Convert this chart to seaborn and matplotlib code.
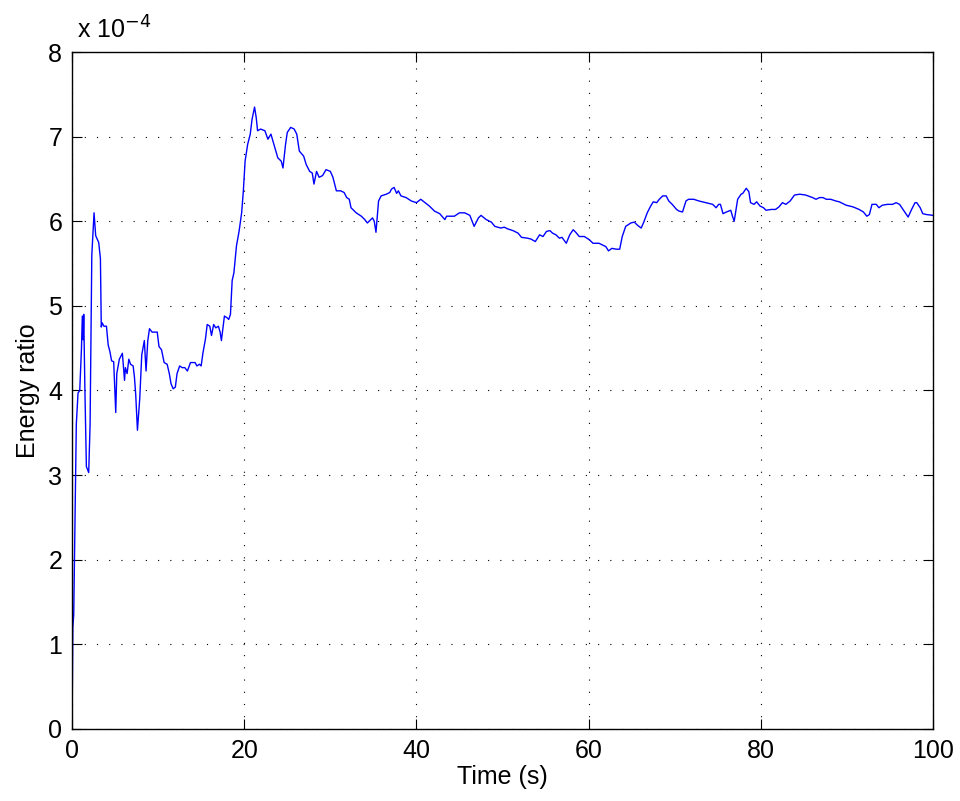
import matplotlib
matplotlib.use("Agg")
import matplotlib.pyplot as plt
import seaborn as sns
import numpy as np
import pandas as pd

# values, energy ratio in units of 1e-4
time_s = [
    0.0, 0.1, 0.2, 0.5, 0.7, 0.9, 1.1, 1.2, 1.3, 1.36, 1.5, 1.67, 1.94, 2.1, 2.3, 2.56,
    2.75, 3.1, 3.3, 3.4, 3.5, 3.7, 4.0, 4.2, 4.4, 4.6, 4.84, 5.08, 5.2, 5.5, 5.85, 6.1,
    6.2, 6.4, 6.6, 6.8, 7.1, 7.25, 7.4, 7.6, 7.87, 8.1, 8.4, 8.6, 8.8, 9.0, 9.3, 9.9,
    10.1, 10.4, 10.7, 11.05, 11.3, 11.5, 11.75, 12.0, 12.2, 12.5, 12.8, 13.1, 13.4, 13.76,
    14.3, 14.5, 14.8, 15.0, 15.2, 15.5, 15.7, 16.0, 16.2, 16.45, 16.7, 17.0, 17.2, 17.35,
    17.7, 18.0, 18.2, 18.4, 18.6, 18.8, 19.1, 19.4, 19.7, 19.9, 20.1, 20.4, 20.7, 20.9,
    21.2, 21.4, 21.55, 21.9, 22.4, 22.75, 23.1, 23.5, 23.9, 24.3, 24.5, 24.8, 25.0, 25.4,
    25.8, 26.1, 26.4, 26.9, 27.2, 27.6, 27.9, 28.1, 28.4, 28.7, 29.1, 29.5, 30.0, 30.3,
    30.7, 31.2, 31.6, 31.9, 32.2, 32.4, 33.0, 33.6, 34.0, 34.3, 34.9, 35.1, 35.3, 35.6,
    35.9, 36.5, 36.9, 37.1, 37.4, 37.7, 37.9, 38.2, 38.8, 39.4, 40.0, 40.5, 41.0, 41.5,
    42.1, 42.7, 43.3, 43.5, 44.1, 44.4, 45.0, 45.6, 46.2, 46.7, 47.2, 47.5, 48.1, 48.7,
    49.1, 49.8, 50.2, 50.6, 51.2, 51.8, 52.2, 52.9, 53.3, 53.8, 54.3, 54.7, 55.1, 55.5,
    55.8, 56.2, 56.6, 56.9, 57.4, 57.8, 58.2, 58.5, 58.9, 59.5, 60.1, 60.5, 61.2, 62.0,
    62.3, 62.7, 63.2, 63.6, 63.9, 64.3, 64.9, 65.3, 65.7, 66.1, 66.4, 66.8, 67.2, 67.5,
    67.9, 68.2, 68.6, 69.0, 69.3, 69.7, 70.2, 70.5, 70.9, 71.3, 71.6, 72.2, 72.8, 73.6,
    74.4, 74.8, 75.1, 75.3, 75.6, 76.0, 76.5, 76.7, 76.9, 77.3, 77.7, 77.9, 78.3, 78.6,
    78.8, 79.2, 79.5, 79.9, 80.3, 80.6, 81.2, 81.7, 82.1, 82.5, 82.9, 83.4, 83.9, 84.5,
    85.2, 86.0, 86.4, 86.8, 87.2, 87.6, 88.1, 88.7, 89.1, 89.9, 90.7, 91.4, 91.9, 92.3,
    92.6, 92.9, 93.4, 93.7, 94.1, 94.7, 95.3, 95.7, 96.1, 96.5, 96.9, 97.1, 97.5, 97.9,
    98.1, 98.5, 98.8, 99.2, 100.0,
]
energy_ratio = [
    0.0, 1.2, 1.35, 3.6, 3.97, 4.0, 4.5, 4.88, 4.6, 4.9, 4.0, 3.1, 3.03, 3.6, 5.6, 6.1,
    5.83, 5.75, 5.56, 4.75, 4.8, 4.76, 4.76, 4.54, 4.46, 4.35, 4.34, 3.74, 4.2, 4.37, 4.44, 4.12,
    4.27, 4.2, 4.37, 4.31, 4.29, 4.16, 3.95, 3.53, 3.91, 4.42, 4.59, 4.23, 4.59, 4.73, 4.69, 4.69,
    4.52, 4.48, 4.33, 4.31, 4.2, 4.08, 4.02, 4.04, 4.2, 4.29, 4.27, 4.27, 4.23, 4.33,
    4.33, 4.29, 4.31, 4.29, 4.44, 4.61, 4.78, 4.76, 4.65, 4.78, 4.74, 4.76, 4.69, 4.59,
    4.88, 4.86, 4.84, 4.9, 5.3, 5.39, 5.71, 5.88, 6.1, 6.36, 6.71, 6.91, 7.03, 7.2,
    7.35, 7.22, 7.07, 7.09, 7.07, 6.97, 7.03, 6.89, 6.75, 6.71, 6.63, 6.91, 7.05, 7.11,
    7.09, 7.03, 6.83, 6.77, 6.67, 6.59, 6.57, 6.44, 6.59, 6.52, 6.54, 6.61, 6.59, 6.52,
    6.36, 6.36, 6.34, 6.28, 6.26, 6.16, 6.1, 6.06, 6.02, 5.98, 6.04, 6.0, 5.87, 6.24,
    6.3, 6.32, 6.34, 6.38, 6.4, 6.33, 6.36, 6.3, 6.28, 6.24, 6.22, 6.26, 6.22, 6.18,
    6.12, 6.09, 6.02, 6.06, 6.06, 6.06, 6.1, 6.1, 6.07, 5.94, 6.04, 6.07, 6.02, 5.99,
    5.94, 5.92, 5.93, 5.91, 5.89, 5.86, 5.81, 5.8, 5.79, 5.76, 5.84, 5.82, 5.88, 5.89,
    5.86, 5.84, 5.8, 5.81, 5.74, 5.84, 5.9, 5.87, 5.82, 5.82, 5.78, 5.74, 5.74, 5.7,
    5.65, 5.68, 5.67, 5.67, 5.82, 5.94, 5.98, 5.99, 5.95, 5.92, 5.99, 6.1, 6.18, 6.23,
    6.22, 6.26, 6.3, 6.3, 6.24, 6.2, 6.14, 6.12, 6.11, 6.24, 6.26, 6.26, 6.24, 6.22,
    6.2, 6.16, 6.2, 6.2, 6.09, 6.11, 6.13, 6.06, 6.0, 6.26, 6.32, 6.33, 6.39, 6.35,
    6.22, 6.2, 6.23, 6.18, 6.16, 6.13, 6.14, 6.14, 6.17, 6.22, 6.2, 6.24, 6.31, 6.32,
    6.31, 6.28, 6.26, 6.28, 6.28, 6.26, 6.26, 6.24, 6.23, 6.19, 6.17, 6.14, 6.11, 6.06,
    6.08, 6.2, 6.2, 6.16, 6.19, 6.2, 6.2, 6.22, 6.2, 6.14, 6.08, 6.05, 6.14, 6.22,
    6.22, 6.16, 6.09, 6.08, 6.07,
]
x_ticks = [0, 20, 40, 60, 80, 100]
y_ticks = [0, 1, 2, 3, 4, 5, 6, 7, 8]

sns.set_theme(style="ticks")
plt.rcParams["font.family"] = ["Liberation Sans", "DejaVu Sans"]

df = pd.DataFrame({"time": time_s, "ratio": energy_ratio})

fig = plt.figure(figsize=(9.6, 8.01), dpi=100)
ax = fig.add_axes([0.075, 0.090, 0.897, 0.845])

sns.lineplot(data=df, x="time", y="ratio", ax=ax, color="#0000ff", linewidth=1.0)

ax.set_xlim(0, 100)
ax.set_ylim(0, 8)
ax.set_xticks(x_ticks)
ax.set_yticks(y_ticks)
ax.grid(True, color="black", linestyle=(0, (1, 10)), linewidth=0.8)
ax.tick_params(direction="in", length=7, width=0.8, labelsize=18,
               top=True, right=True, colors="black", labelcolor="black")
ax.tick_params(axis="x", pad=7)
ax.tick_params(axis="y", pad=7)
for s in ax.spines.values():
    s.set_visible(True)
    s.set_linewidth(1.0)
    s.set_color("black")

ax.set_xlabel("Time (s)", fontsize=18, labelpad=2, color="black")
ax.set_ylabel("Energy ratio", fontsize=18, labelpad=6, color="black")
ax.text(0.006, 1.012, r"x 10$^{-4}$", transform=ax.transAxes, fontsize=18,
        ha="left", va="bottom", color="black")

fig.savefig("out.png", dpi=100)
